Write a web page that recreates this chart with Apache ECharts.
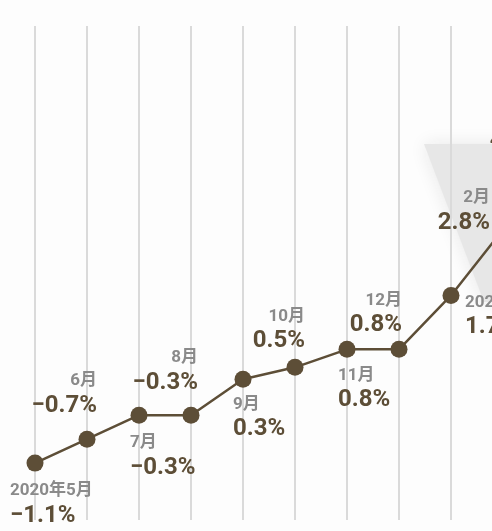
<!DOCTYPE html>
<html>
<head>
<meta charset="utf-8">
<script src="https://cdn.jsdelivr.net/npm/echarts@6/dist/echarts.min.js"></script>
<style>
html,body{margin:0;padding:0;background:#fdfdfd;}
#chart{width:492px;height:531px;}
</style>
</head>
<body>
<div id="chart"></div>
<script>
// ---- data ----
const categories = ['2020年5月','6月','7月','8月','9月','10月','11月','12月','2021年1月','2月','3月','4月'];
const values = [-1.1, -0.7, -0.3, -0.3, 0.3, 0.5, 0.8, 0.8, 1.7, 2.8, 4.2, 6.2];

// ---- label placement (style only) ----
const labelPlacement = [
  {align:'left',  vAlign:'top',    dx:-25, dy:17},
  {align:'right', vAlign:'bottom', dx:10,  dy:-19},
  {align:'left',  vAlign:'top',    dx:-9,  dy:17},
  {align:'right', vAlign:'bottom', dx:7,   dy:-18},
  {align:'left',  vAlign:'top',    dx:-10, dy:14},
  {align:'right', vAlign:'bottom', dx:10,  dy:-12},
  {align:'left',  vAlign:'top',    dx:-9,  dy:15},
  {align:'right', vAlign:'bottom', dx:3,   dy:-10},
  {align:'left',  vAlign:'top',    dx:14,  dy:-4},
  {align:'right', vAlign:'bottom', dx:-13, dy:7},
  {align:'right', vAlign:'bottom', dx:-13, dy:9},
  {align:'right', vAlign:'bottom', dx:-13, dy:9}
];

const LINE = '#5d4e37';
const GRAY = '#8a8a8a';
const FONT = 'Roboto, "Noto Sans CJK SC", sans-serif';

function fmt(v){
  const s = Math.abs(v).toFixed(1) + '%';
  return (v < 0 ? '\u2212' : '') + s;
}

const seriesData = values.map(function(v, i){
  const p = labelPlacement[i];
  return {
    value: v,
    label: {
      show: true,
      position: 'inside',
      offset: [p.dx, p.dy],
      align: p.align,
      verticalAlign: p.vAlign,
      formatter: '{m|' + categories[i] + '}\n{v|' + fmt(v) + '}',
      rich: {
        m: {fontSize: 17, fontWeight: 'bold', color: GRAY, lineHeight: 22, fontFamily: FONT, align: p.align},
        v: {fontSize: 24, fontWeight: 'bold', color: LINE, lineHeight: 28, fontFamily: FONT, align: p.align}
      }
    }
  };
});

const chart = echarts.init(document.getElementById('chart'), null, {renderer: 'canvas'});
chart.setOption({
  backgroundColor: '#fdfdfd',
  animation: false,
  graphic: [{
    type: 'polygon',
    z: -10,
    silent: true,
    shape: {points: [[424,144],[640,144],[600,302],[484,302]]},
    style: {fill: '#e7e7e7', shadowBlur: 18, shadowColor: '#e7e7e7'}
  }],
  grid: {left: 35, top: 26, width: 572, bottom: 11, containLabel: false, outerBoundsMode: 'none'},
  xAxis: {
    type: 'category',
    data: categories,
    boundaryGap: false,
    axisLine: {show: false},
    axisTick: {show: false, interval: 0},
    axisLabel: {show: false, interval: 0},
    splitLine: {show: true, interval: 0, lineStyle: {color: '#dadada', width: 2}}
  },
  yAxis: {
    type: 'value',
    min: -2.05,
    max: 6.2,
    show: false,
    splitLine: {show: false}
  },
  series: [{
    type: 'line',
    data: seriesData,
    symbol: 'circle',
    symbolSize: 17,
    itemStyle: {color: LINE},
    lineStyle: {color: LINE, width: 2.5},
    z: 5
  }]
});
</script>
</body>
</html>
